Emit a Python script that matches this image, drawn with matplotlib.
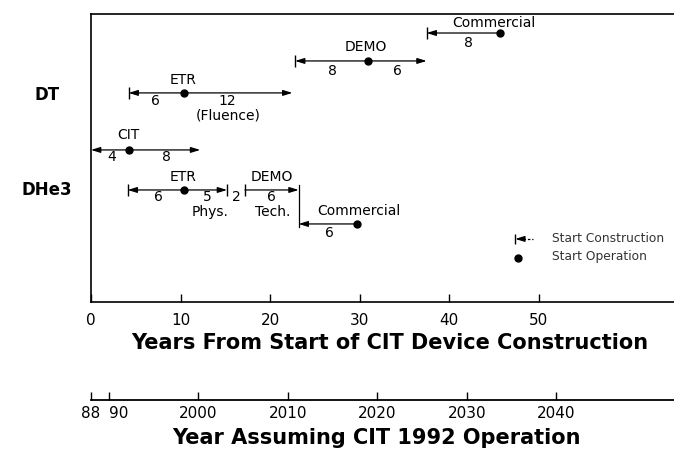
import matplotlib
matplotlib.use("Agg")
import matplotlib.pyplot as plt

# ---------------- data (years from start of CIT device construction) ----------------
phase_names = ["Commercial", "DEMO", "ETR", "CIT", "ETR", "DEMO", "Commercial"]
phase_fuel = ["DT", "DT", "DT", "DT", "DHe3", "DHe3", "DHe3"]
start_construction = [37.5, 22.8, 4.2, 0.0, 4.1, 17.2, 23.2]
start_operation = [45.7, 31.0, 10.4, 4.2, 10.4, None, 29.7]
phase_end = [None, 37.5, 22.5, 12.2, 15.2, 23.2, None]

# duration / note labels per phase
duration_texts = [["8"], ["8", "6"], ["6", "12", "(Fluence)"], ["4", "8"],
                  ["6", "5", "Phys.", "2"], ["6", "Tech."], ["6"]]

year_ticks = [0, 10, 20, 30, 40, 50]
year_tick_labels = ["0", "10", "20", "30", "40", "50"]
calendar_ticks = [1988, 1990, 2000, 2010, 2020, 2030, 2040]
calendar_tick_labels = ["88", "90", "2000", "2010", "2020", "2030", "2040"]
calendar_offset = 1988

# ---------------- layout ----------------
W, H = 674, 450
row_level = [9.34, 8.37, 7.26, 5.28, 3.89, 3.89, 2.71]
# (start_bar, start_arrow, end_arrow, end_bar)
ends_style = [(True, True, False, False), (True, True, True, False),
              (True, True, True, False), (False, True, True, False),
              (True, True, True, True), (True, False, True, False),
              (False, True, False, False)]
name_pos = [(45.0, -10.5), (30.7, -14), (10.3, -13), (4.2, -15),
            (10.3, -13), (20.2, -13), (29.9, -13)]
dur_pos = [[(42.2, 10)], [(27.0, 10), (34.2, 10)],
           [(7.2, 8), (15.2, 8), (15.3, 23)], [(2.3, 7), (8.4, 7)],
           [(7.5, 7), (13.0, 7), (13.3, 22), (16.2, 7)],
           [(20.2, 7), (20.3, 22)], [(26.6, 9)]]

px_per_year = 8.95
x0_px = 91
xmax = (W - x0_px) / px_per_year

fig = plt.figure(figsize=(W / 100, H / 100), dpi=100)
ax = fig.add_axes([x0_px / W, 1 - 302 / H, 1 - x0_px / W, (302 - 14) / H])
ax.set_xlim(0, xmax)
ax.set_ylim(0, 10)

ax.spines["right"].set_visible(False)
for s in ("top", "left", "bottom"):
    ax.spines[s].set_linewidth(1.2)
ax.set_yticks([])
ax.set_xticks(year_ticks)
ax.set_xticklabels(year_tick_labels, fontsize=11)
ax.tick_params(axis="x", direction="in", length=6, width=1, pad=8)

lw = 0.9
hs = "head_length=0.55,head_width=0.17"
lab_fs = 10


def px2pt(v):
    return v * 72 / 100


for i in range(len(phase_names)):
    y = row_level[i]
    s = start_construction[i]
    op = start_operation[i]
    e = phase_end[i] if phase_end[i] is not None else op
    sb, sa, ea, eb = ends_style[i]
    ap = dict(color="k", lw=lw, shrinkA=0, shrinkB=0, mutation_scale=10)
    if sa and ea:
        ap["arrowstyle"] = "<|-|>," + hs
        ax.annotate("", xy=(e, y), xytext=(s, y), arrowprops=ap)
    elif sa:
        ap["arrowstyle"] = "-|>," + hs
        ax.annotate("", xy=(s, y), xytext=(e, y), arrowprops=ap)
    elif ea:
        ap["arrowstyle"] = "-|>," + hs
        ax.annotate("", xy=(e, y), xytext=(s, y), arrowprops=ap)
    else:
        ax.plot([s, e], [y, y], color="k", lw=lw)
    if sb:
        ax.plot([s], [y], marker="|", ms=9, mew=1.0, color="k")
    if eb:
        ax.plot([e], [y], marker="|", ms=9, mew=1.0, color="k")
    if op is not None:
        ax.plot([op], [y], marker="o", ms=5, color="k", zorder=5)
    # labels
    nx, ndy = name_pos[i]
    ax.annotate(phase_names[i], xy=(nx, y), xytext=(0, -px2pt(ndy)),
                textcoords="offset points", ha="center", va="center",
                fontsize=lab_fs)
    for t, (dx, ddy) in zip(duration_texts[i], dur_pos[i]):
        ax.annotate(t, xy=(dx, y), xytext=(0, -px2pt(ddy)),
                    textcoords="offset points", ha="center", va="center",
                    fontsize=lab_fs)

# connector between DHe3 DEMO and Commercial
xc = phase_end[5]
ax.plot([xc, xc], [row_level[5] + 0.17, row_level[6] - 0.1], color="k", lw=lw)

# legend (hand-drawn style)
ly1, ly2 = 2.19, 1.53
lx = 47.4
ax.annotate("", xy=(lx, ly1), xytext=(lx + 0.9, ly1),
            arrowprops=dict(arrowstyle="-|>," + hs, color="k", lw=lw,
                            shrinkA=0, shrinkB=0, mutation_scale=10))
ax.plot([lx], [ly1], marker="|", ms=7, mew=1.0, color="k")
ax.plot([lx + 0.9, lx + 2.0], [ly1, ly1], color="k", lw=lw, ls=(0, (2, 1.5)))
ax.plot([lx + 0.3], [ly2], marker="o", ms=5, color="k")
ax.text(51.5, ly1, "Start Construction", fontsize=8.8, va="center", ha="left",
        color="#333333")
ax.text(51.5, ly2 + 0.04, "Start Operation", fontsize=8.8, va="center", ha="left",
        color="#333333")

ax.set_xlabel("Years From Start of CIT Device Construction", fontsize=15,
              fontweight="bold", va="center", ha="center")
ax.xaxis.set_label_coords(390 / W, 1 - 343 / H, transform=fig.transFigure)

# fuel row labels
fig.text(47 / W, 1 - 95 / H, "DT", fontsize=12, fontweight="bold",
         ha="center", va="center")
fig.text(47 / W, 1 - 190 / H, "DHe3", fontsize=12, fontweight="bold",
         ha="center", va="center")

# calendar-year axis
ax2 = fig.add_axes([x0_px / W, 1 - 400 / H, 1 - x0_px / W, 0.01])
ax2.set_xlim(calendar_offset, calendar_offset + xmax)
ax2.set_ylim(0, 1)
for s in ("top", "left", "right"):
    ax2.spines[s].set_visible(False)
ax2.spines["bottom"].set_linewidth(1.3)
ax2.set_yticks([])
ax2.patch.set_visible(False)
ax2.set_xticks(calendar_ticks)
ax2.set_xticklabels(calendar_tick_labels, fontsize=11)
ax2.tick_params(axis="x", direction="in", length=6, width=1, pad=4)
labs = ax2.get_xticklabels()
labs[1].set_ha("left")
ax2.set_xlabel("Year Assuming CIT 1992 Operation", fontsize=15,
               fontweight="bold", va="center", ha="center")
ax2.xaxis.set_label_coords(376 / W, 1 - 438 / H, transform=fig.transFigure)

fig.savefig("out.png", dpi=100)
